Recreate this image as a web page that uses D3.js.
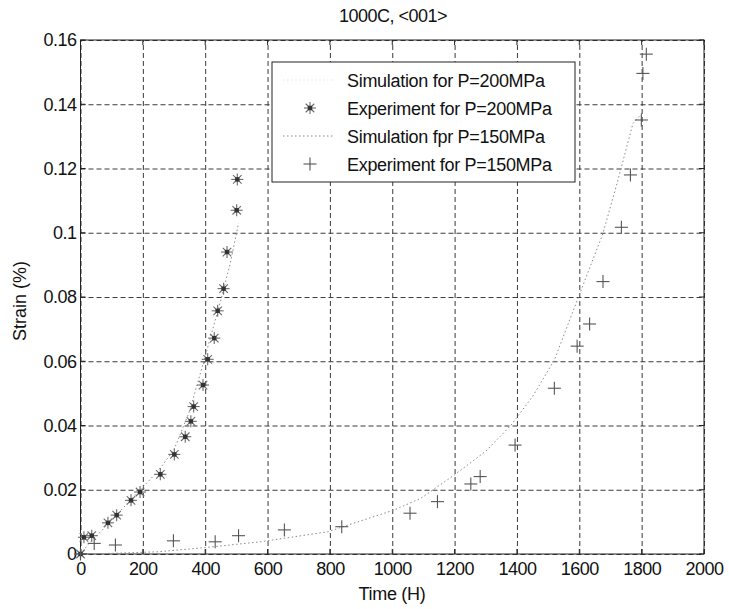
<!DOCTYPE html>
<html>
<head>
<meta charset="utf-8">
<script src="https://cdn.jsdelivr.net/npm/d3@7"></script>
<style>
  html, body { margin: 0; padding: 0; background: #fff; }
  svg { display: block; font-family: "Liberation Sans", Arial, sans-serif; }
</style>
</head>
<body>
<svg id="chart" width="729" height="609"></svg>
<script>
// ---- Data ----
const title = "1000C, <001>";
const xLabel = "Time (H)";
const yLabel = "Strain (%)";
const xTicks = [0, 200, 400, 600, 800, 1000, 1200, 1400, 1600, 1800, 2000];
const yTicks = [0, 0.02, 0.04, 0.06, 0.08, 0.1, 0.12, 0.14, 0.16];
const yTickLabels = ["0", "0.02", "0.04", "0.06", "0.08", "0.1", "0.12", "0.14", "0.16"];
const legendLabels = ["Simulation for P=200MPa", "Experiment for P=200MPa", "Simulation fpr P=150MPa", "Experiment for P=150MPa"];

// Simulation, P=200MPa
const sim200Time   = [0, 25, 50, 100, 150, 200, 250, 300, 350, 400, 450, 480, 507];
const sim200Strain = [0, 0.003, 0.0055, 0.0105, 0.0157, 0.0208, 0.026, 0.0325, 0.0445, 0.0615, 0.079, 0.0903, 0.103];
// Experiment, P=200MPa
const exp200Time   = [0, 11, 36, 88, 116, 162, 191, 256, 301, 336, 354, 363, 393, 408, 429, 440, 459, 470, 501, 503];
const exp200Strain = [0, 0.0052, 0.0057, 0.0097, 0.0121, 0.0167, 0.0193, 0.0248, 0.031, 0.0365, 0.0413, 0.0459, 0.0526, 0.0606, 0.0672, 0.0757, 0.0826, 0.0940, 0.107, 0.1166];
// Simulation, P=150MPa
const sim150Time   = [0, 100, 250, 400, 577, 792, 1006, 1091, 1199, 1300, 1381, 1450, 1520, 1606, 1676, 1724, 1772, 1795];
const sim150Strain = [0, 0.0002, 0.0007, 0.002, 0.0038, 0.0069, 0.0137, 0.0173, 0.0246, 0.032, 0.0401, 0.049, 0.0604, 0.0822, 0.0998, 0.1164, 0.134, 0.1365];
// Experiment, P=150MPa
const exp150Time   = [0, 44, 112, 298, 432, 507, 654, 838, 1057, 1145, 1252, 1282, 1394, 1520, 1593, 1633, 1676, 1735, 1764, 1799, 1804, 1815];
const exp150Strain = [0, 0.0033, 0.0028, 0.0041, 0.0038, 0.0057, 0.0075, 0.0085, 0.0127, 0.0163, 0.0218, 0.0241, 0.0339, 0.0516, 0.0647, 0.0716, 0.0848, 0.1017, 0.118, 0.1351, 0.1496, 0.1556];

// ---- Layout ----
const svg = d3.select("#chart");
const L = 80.5, R = 704, T = 40, B = 554;
const x = d3.scaleLinear().domain([0, 2000]).range([L, R]);
const y = d3.scaleLinear().domain([0, 0.16]).range([B, T]);
const fontSize = 18;
const gridColor = "#3a3a3a";

// Grid
const xGrid = svg.append("g").attr("transform", `translate(0,${B})`)
  .call(d3.axisBottom(x).tickValues(xTicks).tickSize(-(B - T)).tickFormat(""));
xGrid.select(".domain").remove();
xGrid.selectAll("line").attr("stroke", gridColor).attr("stroke-dasharray", "5,3").attr("stroke-width", 1);

const yGrid = svg.append("g").attr("transform", `translate(${L},0)`)
  .call(d3.axisLeft(y).tickValues(yTicks).tickSize(-(R - L)).tickFormat(""));
yGrid.select(".domain").remove();
yGrid.selectAll("line").attr("stroke", gridColor).attr("stroke-dasharray", "5,3").attr("stroke-width", 1);

// Axes labels
const xAxis = svg.append("g").attr("transform", `translate(0,${B})`)
  .call(d3.axisBottom(x).tickValues(xTicks).tickSize(0).tickPadding(8).tickFormat(d => String(d)));
xAxis.select(".domain").remove();
xAxis.selectAll("text").attr("font-size", fontSize).attr("fill", "#111")
  .attr("font-family", "Liberation Sans, Arial, sans-serif").attr("letter-spacing", "-0.5");

const yAxis = svg.append("g").attr("transform", `translate(${L},0)`)
  .call(d3.axisLeft(y).tickValues(yTicks).tickSize(0).tickPadding(4)
    .tickFormat((d, i) => yTickLabels[i]));
yAxis.select(".domain").remove();
yAxis.selectAll("text").attr("font-size", fontSize).attr("fill", "#111")
  .attr("font-family", "Liberation Sans, Arial, sans-serif").attr("letter-spacing", "-0.5");

// Inner tick marks (MATLAB style)
const tickG = svg.append("g").attr("stroke", "#222").attr("stroke-width", 1);
xTicks.forEach(t => {
  tickG.append("line").attr("x1", x(t)).attr("x2", x(t)).attr("y1", B).attr("y2", B - 5);
  tickG.append("line").attr("x1", x(t)).attr("x2", x(t)).attr("y1", T).attr("y2", T + 5);
});
yTicks.forEach(t => {
  tickG.append("line").attr("x1", L).attr("x2", L + 5).attr("y1", y(t)).attr("y2", y(t));
  tickG.append("line").attr("x1", R).attr("x2", R - 5).attr("y1", y(t)).attr("y2", y(t));
});

// Box
svg.append("rect").attr("x", L).attr("y", T).attr("width", R - L).attr("height", B - T)
  .attr("fill", "none").attr("stroke", "#222").attr("stroke-width", 1);

// Title and axis titles
svg.append("text").attr("x", 393).attr("y", 22).attr("text-anchor", "middle")
  .attr("font-size", fontSize).attr("letter-spacing", "-0.5").attr("fill", "#111").text(title);
svg.append("text").attr("x", 392).attr("y", 600).attr("text-anchor", "middle")
  .attr("font-size", fontSize).attr("letter-spacing", "-0.3").attr("fill", "#111").text(xLabel);
svg.append("text").attr("transform", "translate(26,301) rotate(-90)").attr("text-anchor", "middle")
  .attr("font-size", fontSize).attr("fill", "#111").text(yLabel);

// Lines
const line = d3.line().x(d => x(d[0])).y(d => y(d[1]));
const sim200 = sim200Time.map((t, i) => [t, sim200Strain[i]]);
const sim150 = sim150Time.map((t, i) => [t, sim150Strain[i]]);
const simStyle = sel => sel.attr("fill", "none").attr("stroke", "#8a8a8a").attr("stroke-width", 1)
  .attr("stroke-dasharray", "1.5,2.5");
svg.append("path").datum(sim200).attr("d", line).call(simStyle);
svg.append("path").datum(sim150).attr("d", line).call(simStyle);

// Markers
function star(g, cx, cy) {
  const r = 6;
  for (let k = 0; k < 4; k++) {
    const a = k * Math.PI / 4;
    g.append("line").attr("x1", cx - r * Math.cos(a)).attr("y1", cy - r * Math.sin(a))
      .attr("x2", cx + r * Math.cos(a)).attr("y2", cy + r * Math.sin(a))
      .attr("stroke", "#6a6a6a").attr("stroke-width", 1.1);
  }
  g.append("rect").attr("x", cx - 2.2).attr("y", cy - 2.2).attr("width", 4.4).attr("height", 4.4)
    .attr("fill", "#333");
}
function plus(g, cx, cy) {
  const r = 6.5;
  g.append("line").attr("x1", cx - r).attr("x2", cx + r).attr("y1", cy).attr("y2", cy)
    .attr("stroke", "#555").attr("stroke-width", 1.1);
  g.append("line").attr("x1", cx).attr("x2", cx).attr("y1", cy - r).attr("y2", cy + r)
    .attr("stroke", "#555").attr("stroke-width", 1.1);
}
const exp200G = svg.append("g");
exp200Time.forEach((t, i) => star(exp200G, x(t), y(exp200Strain[i])));
const exp150G = svg.append("g");
exp150Time.forEach((t, i) => plus(exp150G, x(t), y(exp150Strain[i])));

// Legend
const lg = svg.append("g");
lg.append("rect").attr("x", 272).attr("y", 62).attr("width", 303).attr("height", 120)
  .attr("fill", "#fff").attr("stroke", "#222").attr("stroke-width", 1);
const rowY = [80, 108, 136, 164];
legendLabels.forEach((lab, i) => {
  lg.append("text").attr("x", 347).attr("y", rowY[i] + 6.5).attr("font-size", fontSize)
    .attr("letter-spacing", "-0.3").attr("fill", "#111").text(lab);
});
lg.append("line").attr("x1", 283).attr("x2", 335).attr("y1", rowY[0]).attr("y2", rowY[0])
  .attr("stroke", "#e6e6e6").attr("stroke-width", 1).attr("stroke-dasharray", "1.5,2.5");
star(lg, 310, rowY[1]);
lg.append("line").attr("x1", 283).attr("x2", 335).attr("y1", rowY[2]).attr("y2", rowY[2])
  .call(simStyle);
plus(lg, 310, rowY[3]);
</script>
</body>
</html>
